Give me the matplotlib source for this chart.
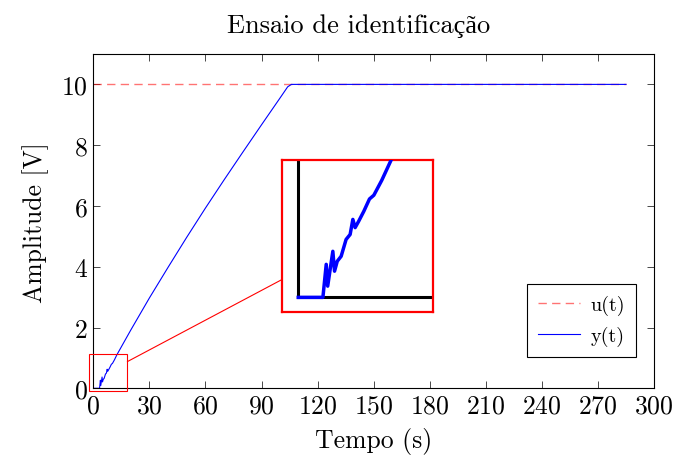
import matplotlib
matplotlib.use("Agg")
import matplotlib.pyplot as plt

plt.rcParams["font.family"] = ["cmr10", "Liberation Serif"]
plt.rcParams["mathtext.fontset"] = "cm"
plt.rcParams["axes.formatter.use_mathtext"] = True

# ── data ─────────────────────────────────────────────────
t_u = [0, 285]
u = [10, 10]

t_y = [0, 3.35, 3.8, 4.0, 4.7, 4.93, 5.3, 5.83, 6.5, 7.05, 7.42, 7.73,
       8.2, 8.9, 9.68, 10.27, 10.9, 11.35, 12.6, 20, 30, 40, 50, 60,
       70, 80, 90, 100, 104, 106, 285]
y = [0, 0, 0.265, 0.09, 0.37, 0.21, 0.29, 0.33, 0.465, 0.505, 0.626, 0.56,
     0.61, 0.69, 0.79, 0.82, 0.89, 0.94, 1.1, 1.91, 2.97, 3.98, 4.97, 5.93,
     6.86, 7.77, 8.67, 9.56, 9.92, 10.0, 10.0]

xticks = list(range(0, 301, 30))
yticks = [0, 2, 4, 6, 8, 10]

# zoomed region and where the magnified view sits (data units)
zoom_x = (-2.2, 18.3)
zoom_y = (-0.1, 1.12)
inset_box = (101, 2.5, 80.7, 5.0)

fig = plt.figure(figsize=(6.76, 4.56), dpi=100)
ax = fig.add_axes([0.138, 0.1463, 0.8295, 0.7331])

ax.plot(t_u, u, ls=(0, (6, 3.8)), color="red", alpha=0.55, lw=1.0,
        label="u(t)")
ax.plot(t_y, y, color="blue", lw=0.8, label="y(t)")

ax.set_xlim(0, 300)
ax.set_ylim(0, 11)
ax.set_xticks(xticks)
ax.set_yticks(yticks)
ax.tick_params(direction="in", top=True, right=True, length=5, width=0.5,
               labelsize=18.5, pad=4)
for s in ax.spines.values():
    s.set_linewidth(0.8)

ax.set_xlabel("Tempo (s)", fontsize=18.5, labelpad=7)
ax.set_ylabel("Amplitude [V]", fontsize=18.5, labelpad=9)
ax.set_title("Ensaio de identificação", fontsize=19, pad=16, x=0.474)

# ── zoom rectangle on the main plot ──────────────────────
ax.add_patch(plt.Rectangle((zoom_x[0], zoom_y[0]), zoom_x[1] - zoom_x[0],
                           zoom_y[1] - zoom_y[0], fill=False, ec="red",
                           lw=0.8, clip_on=False, zorder=5))
ax.plot([zoom_x[1], inset_box[0]], [0.88, 3.58], color="red", lw=0.8,
        clip_on=False, zorder=5)

# ── magnified view ───────────────────────────────────────
axi = ax.inset_axes(inset_box, transform=ax.transData)
axi.plot(t_y, y, color="blue", lw=2.5, zorder=3)
axi.plot([0, 0], [0, 2], color="black", lw=2.2, zorder=2)
axi.plot([0, 30], [0, 0], color="black", lw=2.2, zorder=2)
axi.set_xlim(*zoom_x)
axi.set_ylim(-0.12, 1.1)
axi.set_xticks([])
axi.set_yticks([])
for s in axi.spines.values():
    s.set_color("red")
    s.set_linewidth(1.6)

leg = ax.legend(loc="lower right", bbox_to_anchor=(0.968, 0.093),
                borderaxespad=0, fontsize=14.5, frameon=True, fancybox=False,
                edgecolor="black", framealpha=1, borderpad=0.55,
                handlelength=2.1, handletextpad=0.5, labelspacing=0.55)
leg.get_frame().set_linewidth(0.8)

fig.savefig("out.png", dpi=100)
